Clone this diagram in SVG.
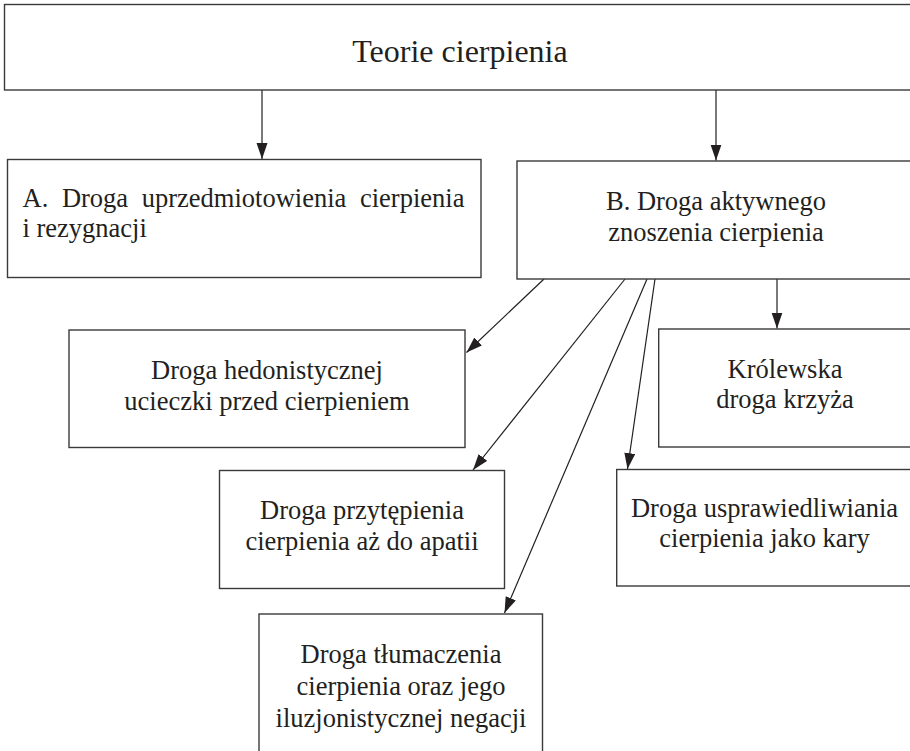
<svg xmlns="http://www.w3.org/2000/svg" width="910" height="751" viewBox="0 0 910 751">
<style>
.box{fill:#fff;stroke:#3a3a3a;stroke-width:1.4}
.t{font-family:"Liberation Serif","Times New Roman",serif;font-size:26.5px;fill:#231f20}
.c{text-anchor:middle}
.edge{stroke:#231f20;stroke-width:1.2;fill:none;marker-end:url(#ah)}
</style>
<defs>
<marker id="ah" markerUnits="userSpaceOnUse" markerWidth="17" markerHeight="12" refX="16" refY="5.5" orient="auto">
<path d="M0,0 L16,5.5 L0,11 z" fill="#231f20"/>
</marker>
</defs>
<rect width="910" height="751" fill="#fff"/>
<g id="connectors">
<line class="edge" x1="262" y1="90" x2="262" y2="159"/>
<line class="edge" x1="716" y1="90" x2="716" y2="160.5"/>
<line class="edge" x1="544" y1="279" x2="466.5" y2="352.5"/>
<line class="edge" x1="625" y1="279" x2="473" y2="470"/>
<line class="edge" x1="647" y1="279" x2="504.5" y2="613"/>
<line class="edge" x1="655" y1="279" x2="627.5" y2="469"/>
<line class="edge" x1="777" y1="279" x2="777" y2="328.5"/>
</g>
<g id="teorie">
<rect class="box" x="4.5" y="4.5" width="930" height="85.5"/>
<text class="t c" x="460" y="62" style="font-size:32px">Teorie cierpienia</text>
</g>
<g id="a">
<rect class="box" x="7.5" y="159.5" width="473.5" height="118"/>
<text class="t" x="22.5" y="207" word-spacing="7">A. Droga uprzedmiotowienia cierpienia</text>
<text class="t" x="22.5" y="237">i rezygnacji</text>
</g>
<g id="b">
<rect class="box" x="517" y="161" width="420" height="118"/>
<text class="t c" x="716" y="210">B. Droga aktywnego</text>
<text class="t c" x="716" y="241">znoszenia cierpienia</text>
</g>
<g id="hedon">
<rect class="box" x="69" y="330" width="396" height="117.5"/>
<text class="t c" x="267" y="379">Droga hedonistycznej</text>
<text class="t c" x="267" y="410">ucieczki przed cierpieniem</text>
</g>
<g id="krolewska">
<rect class="box" x="658.7" y="329" width="280" height="118"/>
<text class="t c" x="785" y="378">Królewska</text>
<text class="t c" x="785" y="408">droga krzyża</text>
</g>
<g id="przytepienia">
<rect class="box" x="219.5" y="470.5" width="285" height="118"/>
<text class="t c" x="362" y="519">Droga przytępienia</text>
<text class="t c" x="362" y="550">cierpienia aż do apatii</text>
</g>
<g id="usprawiedliwiania">
<rect class="box" x="616.7" y="469.5" width="320" height="116.5"/>
<text class="t c" x="764.5" y="517">Droga usprawiedliwiania</text>
<text class="t c" x="764.5" y="547">cierpienia jako kary</text>
</g>
<g id="tlumaczenia">
<rect class="box" x="259" y="614" width="283.5" height="160"/>
<text class="t c" x="401" y="663">Droga tłumaczenia</text>
<text class="t c" x="401" y="695">cierpienia oraz jego</text>
<text class="t c" x="401" y="727">iluzjonistycznej negacji</text>
</g>
</svg>
